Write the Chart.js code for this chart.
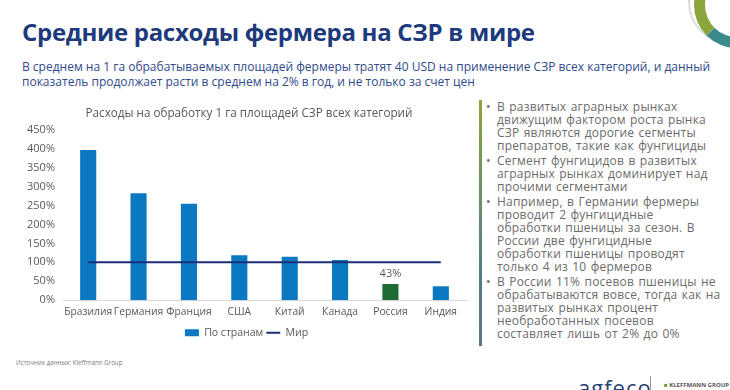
<!DOCTYPE html>
<html lang="ru">
<head>
<meta charset="utf-8">
<script src="https://cdn.jsdelivr.net/npm/chart.js@4"></script>
<style>
  body { margin: 0; width: 730px; height: 390px; background: #fff; overflow: hidden; position: relative; font-family: "Open Sans", "Noto Sans", sans-serif; }
  #title { position: absolute; left: 22px; top: 15px; font-size: 24px; font-weight: 700; color: #1d3a7c; letter-spacing: -0.3px; }
  #subtitle { position: absolute; left: 22px; top: 59px; width: 700px; font-size: 12px; line-height: 15px; color: #2f4a8a; }
  #chartTitle { position: absolute; left: 49px; top: 104px; width: 400px; text-align: center; font-size: 11.7px; color: #595959; }
  #chartBox { position: absolute; left: 20px; top: 103px; width: 458px; height: 245px; }
  #side { position: absolute; left: 479px; top: 100px; width: 3px; height: 246px; background: linear-gradient(#8aa53a, #4f7f86 70%, #5d7488); }
  #notes { position: absolute; left: 486px; top: 100px; margin: 0; padding: 0; list-style: none; font-size: 12px; line-height: 13px; letter-spacing: 0.2px; word-spacing: 1px; color: #6b6b6b; white-space: nowrap; }
  #notes li { position: relative; padding-left: 11px; margin-bottom: 2px; }
  #notes li::before { content: "•"; position: absolute; left: 0; top: 0; }
  #source { position: absolute; left: 16px; top: 358px; font-size: 6.2px; color: #7a7a7a; }
  .ring { position: absolute; border-radius: 50%; }
  #brand { position: absolute; left: 578px; top: 372px; font-size: 22px; color: #2a3f7a; letter-spacing: 1px; }
  #brandSep { position: absolute; left: 650px; top: 376px; width: 1px; height: 14px; background: #999; }
  #kleff { position: absolute; left: 664px; top: 381px; font-size: 6px; color: #555; font-weight: 700; }
</style>
</head>
<body>
<div class="ring" style="left:688px; top:-40px; width:80px; height:80px; border:2px solid #dcdcdc;"></div>
<div class="ring" style="left:694px; top:-38px; width:64px; height:64px; border:11px solid #5a9a4a; border-left-color:#8aa53a; border-bottom-color:#3d8a8a;"></div>

<div id="title">Средние расходы фермера на СЗР в мире</div>
<div id="subtitle">В среднем на 1 га обрабатываемых площадей фермеры тратят 40 USD на применение СЗР всех категорий, и данный показатель продолжает расти в среднем на 2% в год, и не только за счет цен</div>

<div id="chartBox"><canvas id="costChart"></canvas></div>
<div id="chartTitle">Расходы на обработку 1 га площадей СЗР всех категорий</div>

<div id="side"></div>
<ul id="notes">
  <li>В развитых аграрных рынках<br>движущим фактором роста рынка<br>СЗР являются дорогие сегменты<br>препаратов, такие как фунгициды</li>
  <li>Сегмент фунгицидов в развитых<br>аграрных рынках доминирует над<br>прочими сегментами</li>
  <li>Например, в Германии фермеры<br>проводит 2 фунгицидные<br>обработки пшеницы за сезон. В<br>России две фунгицидные<br>обработки пшеницы проводят<br>только 4 из 10 фермеров</li>
  <li>В России 11% посевов пшеницы не<br>обрабатываются вовсе, тогда как на<br>развитых рынках процент<br>необработанных посевов<br>составляет лишь от 2% до 0%</li>
</ul>

<div id="source">Источник данных: Kleffmann Group</div>
<div id="brand">agfeco</div>
<div id="brandSep"></div>
<div id="kleff"><span style="color:#6a9a2a">■</span> KLEFFMANN GROUP</div>

<script>
// Chart data
const countries = ['Бразилия', 'Германия', 'Франция', 'США', 'Китай', 'Канада', 'Россия', 'Индия'];
const countryValues = [397, 283, 255, 119, 115, 106, 43, 37];
const worldValues = [100, 100, 100, 100, 100, 100, 100, 100];
const yTicks = [0, 50, 100, 150, 200, 250, 300, 350, 400, 450];
const highlightCountry = 'Россия';

const barBlue = '#0b78c2';
const barGreen = '#1f6b34';
const worldColor = '#1e2d78';
const textGray = '#595959';

const highlightIndex = countries.indexOf(highlightCountry);
const barColors = countries.map((c, i) => i === highlightIndex ? barGreen : barBlue);

// Value label above the highlighted bar
const highlightLabel = {
  id: 'highlightLabel',
  afterDatasetsDraw(chart) {
    const meta = chart.getDatasetMeta(1);
    const bar = meta.data[highlightIndex];
    if (!bar) return;
    const ctx = chart.ctx;
    ctx.save();
    ctx.font = '11px "Open Sans", sans-serif';
    ctx.fillStyle = textGray;
    ctx.textAlign = 'center';
    ctx.textBaseline = 'middle';
    ctx.fillText(countryValues[highlightIndex] + '%', bar.x, bar.y - 10);
    ctx.restore();
  }
};

const ctx = document.getElementById('costChart').getContext('2d');
new Chart(ctx, {
  type: 'bar',
  data: {
    labels: countries,
    datasets: [
      {
        type: 'line',
        label: 'Мир',
        data: worldValues,
        borderColor: worldColor,
        backgroundColor: worldColor,
        borderWidth: 2,
        pointRadius: 0,
        fill: false,
        order: 0
      },
      {
        label: 'По странам',
        data: countryValues,
        backgroundColor: barColors,
        categoryPercentage: 0.8,
        barPercentage: 0.4,
        order: 1
      }
    ]
  },
  options: {
    responsive: true,
    maintainAspectRatio: false,
    animation: false,
    layout: { padding: { left: 7, right: 12, top: 27, bottom: 0 } },
    plugins: {
      title: { display: false },
      legend: {
        position: 'bottom',
        reverse: true,
        labels: {
          color: textGray,
          font: { family: '"Open Sans", sans-serif', size: 10.5 },
          usePointStyle: true,
          pointStyleWidth: 14,
          boxHeight: 7,
          padding: 3,
          generateLabels(chart) {
            const items = Chart.defaults.plugins.legend.labels.generateLabels(chart);
            items.forEach(item => {
              if (item.datasetIndex === 1) {
                item.pointStyle = 'rect';
                item.fillStyle = barBlue;
                item.strokeStyle = barBlue;
                item.lineWidth = 0;
              } else {
                item.pointStyle = 'line';
                item.strokeStyle = worldColor;
                item.lineWidth = 2;
              }
            });
            return items;
          }
        }
      },
      tooltip: { enabled: false }
    },
    scales: {
      x: {
        grid: { display: false, drawTicks: false },
        border: { display: true, color: '#d9d9d9', width: 1 },
        ticks: { color: textGray, font: { family: '"Open Sans", sans-serif', size: 10.3 }, maxRotation: 0, autoSkip: false, padding: 6 }
      },
      y: {
        min: yTicks[0],
        max: yTicks[yTicks.length - 1],
        grid: { display: false, drawTicks: false },
        border: { display: false },
        afterBuildTicks(axis) { axis.ticks = yTicks.map(v => ({ value: v })); },
        afterFit(axis) { axis.width = 36; },
        ticks: {
          color: textGray,
          font: { family: '"Open Sans", sans-serif', size: 11 },
          padding: 8,
          callback: v => v + '%'
        }
      }
    }
  },
  plugins: [highlightLabel]
});
</script>
</body>
</html>
